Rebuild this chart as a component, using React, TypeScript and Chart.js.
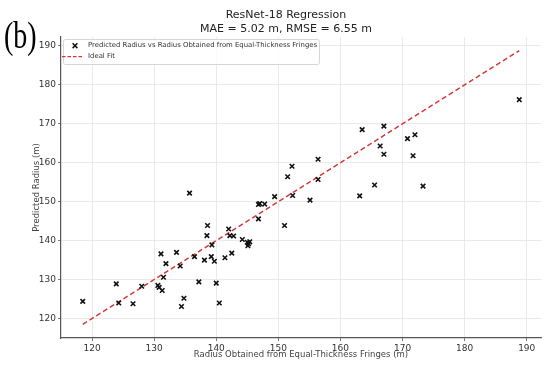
import React, { useEffect, useRef } from "react";
import { Chart, registerables } from "chart.js";

Chart.register(...registerables);

// Data
const obtainedRadius = [
  118.5, 123.9, 124.3, 126.6, 128.0, 130.6, 130.8, 131.3, 131.1, 131.9,
  131.5, 133.6, 134.2, 134.8, 134.4, 136.5, 137.2, 135.7, 138.6, 138.5,
  139.3, 138.1, 139.2, 139.7, 141.4, 142.5, 142.0, 142.2, 142.8, 144.2,
  145.0, 145.1, 145.4, 145.2, 140.0, 140.5, 146.8, 147.0, 147.8, 146.8,
  149.4, 152.3, 151.0, 155.1, 151.5, 152.2, 156.4, 156.4, 163.1, 165.5,
  163.5, 167.0, 166.4, 167.0, 170.8, 172.0, 171.7, 173.3, 188.8,
];
const predictedRadius = [
  124.4, 128.9, 124.0, 123.8, 128.3, 128.5, 128.0, 127.2, 136.6, 134.1,
  130.6, 137.0, 133.5, 125.2, 123.1, 135.9, 129.4, 152.2, 143.9, 141.3,
  138.9, 135.0, 135.9, 134.7, 135.6, 136.8, 143.0, 141.3, 141.2, 140.3,
  139.6, 138.7, 139.7, 139.2, 129.1, 124.0, 149.3, 149.5, 149.4, 145.6,
  151.3, 151.6, 143.9, 150.4, 156.4, 159.1, 160.9, 155.7, 151.5, 154.3,
  168.5, 169.4, 164.3, 162.2, 166.2, 167.2, 161.8, 154.0, 176.2,
];
const idealFitRange = [118.5, 188.8];
const tickValues = [120, 130, 140, 150, 160, 170, 180, 190];
const axisMin = 115;
const axisMax = 192.3;

const titleLines = ["ResNet-18 Regression", "MAE = 5.02 m, RMSE = 6.55 m"];
const panelLabel = "(b)";
const scatterLabel = "Predicted Radius vs Radius Obtained from Equal-Thickness Fringes";
const lineLabel = "Ideal Fit";
const xAxisTitle = "Radius Obtained from Equal-Thickness Fringes (m)";
const yAxisTitle = "Predicted Radius (m)";

const FONT = "'DejaVu Sans', sans-serif";
const RED = "rgb(214, 52, 52)";

const overlayPlugin = {
  id: "overlay",
  afterDraw(chart: any) {
    const ctx = chart.ctx as CanvasRenderingContext2D;
    ctx.save();
    ctx.fillStyle = "#222";
    ctx.textAlign = "center";
    ctx.textBaseline = "middle";
    ctx.font = `11px ${FONT}`;
    ctx.fillText(titleLines[0], 286, 15);
    ctx.fillText(titleLines[1], 286, 29);
    ctx.restore();

    ctx.save();
    ctx.textAlign = "left";
    ctx.textBaseline = "alphabetic";
    ctx.fillStyle = "#000";
    ctx.font = `28px 'Liberation Serif', serif`;
    ctx.translate(4, 48);
    ctx.scale(1, 1.38);
    ctx.fillText(panelLabel, 0, 0);
    ctx.restore();

    ctx.save();
    const lx = 63, ly = 39, lw = 256, lh = 25;
    ctx.beginPath();
    ctx.roundRect(lx + 0.5, ly + 0.5, lw, lh, 2);
    ctx.fillStyle = "rgba(255,255,255,0.85)";
    ctx.fill();
    ctx.strokeStyle = "#d6d6d6";
    ctx.lineWidth = 1;
    ctx.stroke();
    const ds = chart.data.datasets;
    const mx = 75, my = 45.7, r = 2.4;
    ctx.strokeStyle = "#111";
    ctx.lineWidth = 1.5;
    ctx.beginPath();
    ctx.moveTo(mx - r, my - r); ctx.lineTo(mx + r, my + r);
    ctx.moveTo(mx - r, my + r); ctx.lineTo(mx + r, my - r);
    ctx.stroke();
    ctx.strokeStyle = RED;
    ctx.lineWidth = 1.3;
    ctx.setLineDash([3.5, 2]);
    ctx.beginPath();
    ctx.moveTo(62, 56.7); ctx.lineTo(83, 56.7);
    ctx.stroke();
    ctx.setLineDash([]);
    ctx.fillStyle = "#333";
    ctx.font = `6.9px ${FONT}`;
    ctx.textAlign = "left";
    ctx.textBaseline = "middle";
    ctx.fillText(ds[0].label, 88, 45.7);
    ctx.fillText(ds[1].label, 88, 56.7);
    ctx.restore();
  },
};

export default function App() {
  const ref = useRef<HTMLCanvasElement | null>(null);
  useEffect(() => {
    document.body.style.margin = "0";
    const canvas = ref.current!;
    const scatterData = obtainedRadius.map((x, i) => ({ x, y: predictedRadius[i] }));
    const lineData = idealFitRange.map((v) => ({ x: v, y: v }));
    const tickCb = (v: any) => (tickValues.includes(Number(v)) ? String(v) : "");
    const chart = new Chart(canvas, {
      type: "scatter",
      data: {
        datasets: [
          {
            label: scatterLabel,
            data: scatterData,
            pointStyle: "crossRot",
            pointRadius: 3.2,
            pointBorderWidth: 1.6,
            borderColor: "#111",
            backgroundColor: "#111",
            showLine: false,
            order: 1,
          },
          {
            label: lineLabel,
            data: lineData,
            showLine: true,
            borderColor: RED,
            borderWidth: 1.4,
            borderDash: [5, 3],
            pointRadius: 0,
            order: 2,
          },
        ],
      },
      options: {
        responsive: false,
        animation: false,
        layout: { padding: { left: 0, top: 37, right: 9, bottom: 0 } },
        plugins: {
          legend: { display: false },
          title: { display: false },
          tooltip: { enabled: false },
        },
        scales: {
          x: {
            type: "linear",
            min: axisMin,
            max: axisMax,
            afterFit: (s: any) => { s.height = 34; },
            ticks: {
              stepSize: 10,
              includeBounds: false,
              autoSkip: false,
              maxRotation: 0,
              callback: tickCb,
              color: "#333",
              font: { family: FONT, size: 9 },
              padding: 2,
            },
            grid: { color: "#e4e4e4", lineWidth: 0.8, tickLength: 3, tickColor: "#555" },
            border: { color: "#555", width: 1.2 },
            title: {
              display: true,
              text: xAxisTitle,
              color: "#444",
              font: { family: FONT, size: 8.5 },
              padding: { top: 0, bottom: 12 },
            },
          },
          y: {
            type: "linear",
            min: axisMin,
            max: axisMax,
            afterFit: (s: any) => { s.width = 61; },
            ticks: {
              stepSize: 10,
              includeBounds: false,
              autoSkip: false,
              callback: tickCb,
              color: "#333",
              font: { family: FONT, size: 9 },
              padding: 2,
            },
            grid: { color: "#e4e4e4", lineWidth: 0.8, tickLength: 3, tickColor: "#555" },
            border: { color: "#555", width: 1.2 },
            title: {
              display: true,
              text: yAxisTitle,
              color: "#444",
              font: { family: FONT, size: 8.5 },
              padding: { top: 32, bottom: 0 },
            },
          },
        },
      },
      plugins: [overlayPlugin],
    } as any);
    return () => chart.destroy();
  }, []);
  return (
    <div style={{ position: "absolute", left: 0, top: 0, width: 550, height: 372, background: "#fff" }}>
      <canvas ref={ref} width={550} height={372} style={{ display: "block" }} />
    </div>
  );
}
